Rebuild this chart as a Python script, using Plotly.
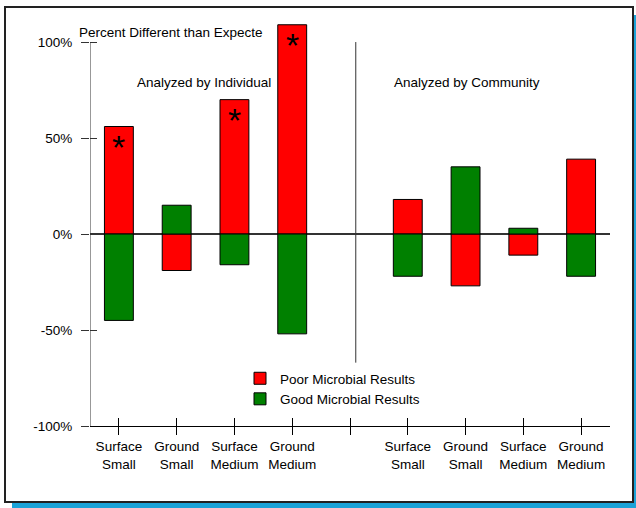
import plotly.graph_objects as go

# category slots (slot 4 is the empty gap between the two groups)
slots = [0, 1, 2, 3, 4, 5, 6, 7, 8]
tick_labels = ["Surface<br>Small", "Ground<br>Small", "Surface<br>Medium", "Ground<br>Medium", "",
               "Surface<br>Small", "Ground<br>Small", "Surface<br>Medium", "Ground<br>Medium"]
poor = [56, -19, 70, 109, None, 18, -27, -11, 39]
good = [-45, 15, -16, -52, None, -22, 35, 3, -22]
starred = [0, 2, 3]   # significant ones
y_ticks = [-100, -50, 0, 50, 100]
y_tick_text = ["-100%", "-50%", "0%", "50%", "100%"]

W, H = 636, 508
L, R, T, B = 90, 26, 19, 82
pw, ph = W - L - R, H - T - B

def px(x):
    return (x - L) / pw

def py(y):
    return (H - B - y) / ph

font = dict(family="Arial, Liberation Sans, sans-serif", size=13.5, color="black")

fig = go.Figure()
fig.add_trace(go.Bar(x=slots, y=poor, name="Poor Microbial Results", width=0.5,
                     marker=dict(color="#ff0000", line=dict(color="black", width=1))))
fig.add_trace(go.Bar(x=slots, y=good, name="Good Microbial Results", width=0.5,
                     marker=dict(color="#008000", line=dict(color="black", width=1))))

# stars on top of the red bars
for i in starred:
    fig.add_annotation(x=slots[i], y=poor[i], text="*", showarrow=False, yanchor="top",
                       yshift=1, font=dict(family="Arial, Liberation Sans", size=34, color="black"))

fig.add_annotation(x=1.47, y=79, text="Analyzed by Individual", showarrow=False, font=font)
fig.add_annotation(x=6.02, y=79, text="Analyzed by Community", showarrow=False, font=font)
fig.add_annotation(x=px(77), y=py(33), xref="paper", yref="paper", xanchor="left", yanchor="middle",
                   text="Percent Different than Expecte", showarrow=False, font=font)

# y axis line only spans -100%..100%
fig.add_shape(type="line", x0=-0.5, x1=-0.5, y0=-100, y1=100, line=dict(color="#333333", width=1))
# divider between groups
fig.add_shape(type="line", x0=4.1, x1=4.1, y0=-67, y1=100, line=dict(color="#333333", width=1))

# outer frame with blue shadow
fig.add_shape(type="rect", xref="paper", yref="paper", x0=px(12), x1=px(640), y0=py(512), y1=py(15),
              line=dict(width=0), fillcolor="#1ba3d8", layer="below")
fig.add_shape(type="rect", xref="paper", yref="paper", x0=px(5), x1=px(633), y0=py(502), y1=py(7),
              line=dict(color="#222222", width=2), fillcolor="white", layer="below")

fig.update_layout(
    width=W, height=H,
    margin=dict(l=L, r=R, t=T, b=B),
    paper_bgcolor="white", plot_bgcolor="rgba(0,0,0,0)",
    barmode="relative", bargap=0.5,
    font=font,
    showlegend=True,
    legend=dict(x=px(240), y=py(363), xanchor="left", yanchor="top", bgcolor="rgba(0,0,0,0)",
                font=font, tracegroupgap=0, itemwidth=30),
    xaxis=dict(range=[-0.5, 8.5], tickmode="array", tickvals=slots, ticktext=tick_labels,
               showline=True, linecolor="black", linewidth=1, ticks="outside", ticklen=8,
               tickcolor="black", showgrid=False, zeroline=False, fixedrange=True),
    yaxis=dict(range=[-100, 112], tickmode="array", tickvals=y_ticks, ticktext=y_tick_text,
               showline=False, ticks="outside", ticklen=8,
               tickcolor="#333333", showgrid=False, zeroline=True, zerolinecolor="#333333",
               zerolinewidth=1.5, ticklabelstandoff=6),
    xaxis2=dict(range=[-0.5, 8.5], overlaying="x", anchor="y", side="bottom", tickvals=slots,
                showticklabels=False, ticks="inside", ticklen=8, tickcolor="black",
                showgrid=False, zeroline=False, showline=False),
    yaxis2=dict(range=[-100, 112], overlaying="y", anchor="x", side="left",
                tickvals=y_ticks, showticklabels=False, ticks="inside", ticklen=7,
                tickcolor="#333333", showgrid=False, zeroline=False, showline=False),
)
# invisible trace to carry the inner ticks
fig.add_trace(go.Scatter(x=[0], y=[0], xaxis="x2", yaxis="y2", mode="markers",
                         marker=dict(opacity=0), showlegend=False, hoverinfo="skip"))

fig.write_html("out.html", config={"displayModeBar": False},
               post_script="document.body.style.margin='0';")
